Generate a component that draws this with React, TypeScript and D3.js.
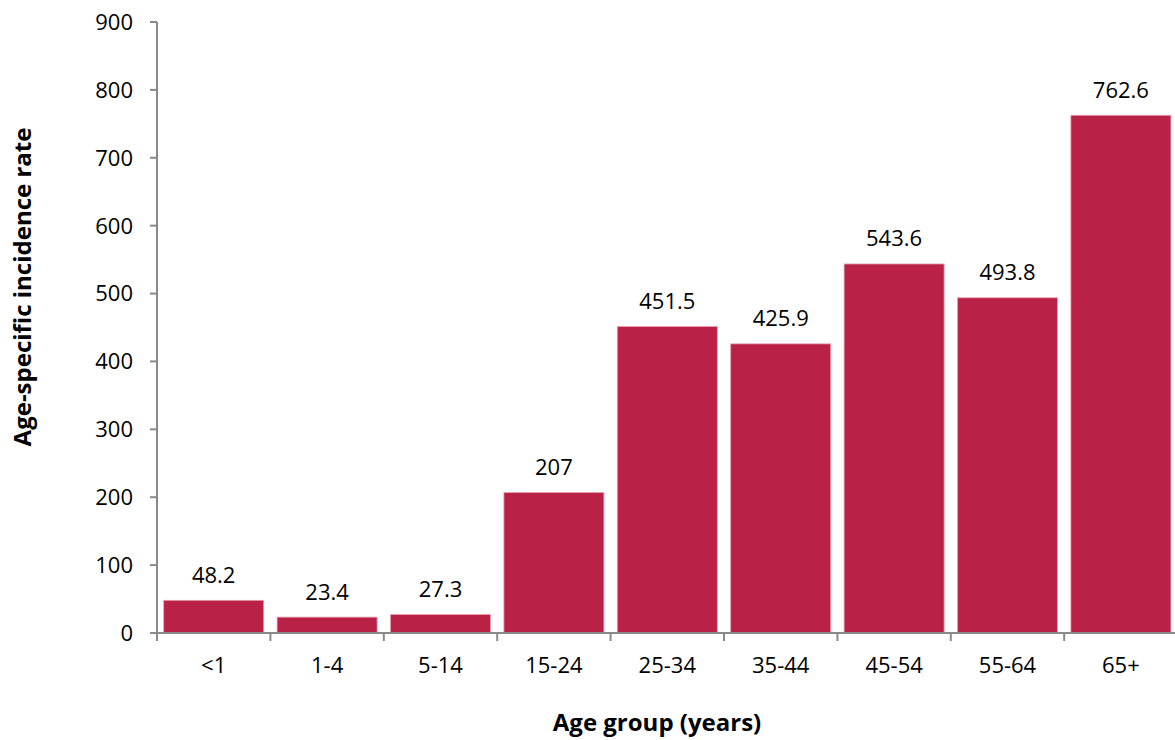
import React from "react";
import * as d3 from "d3";

const categories = ["<1", "1-4", "5-14", "15-24", "25-34", "35-44", "45-54", "55-64", "65+"];
const values = [48.2, 23.4, 27.3, 207, 451.5, 425.9, 543.6, 493.8, 762.6];
const valueLabels = ["48.2", "23.4", "27.3", "207", "451.5", "425.9", "543.6", "493.8", "762.6"];
const yTicks = [0, 100, 200, 300, 400, 500, 600, 700, 800, 900];

const W = 1175;
const H = 740;
const left = 157;
const right = 1177.6;
const top = 22;
const bottom = 633;
const font = "'Open Sans', 'Liberation Sans', sans-serif";

export default function App() {
  const x = d3.scaleBand<string>().domain(categories).range([left, right]).paddingInner(0.118).paddingOuter(0.059);
  const y = d3.scaleLinear().domain([0, 900]).range([bottom, top]);
  const boundaries = d3.range(categories.length + 1).map((i) => left + i * ((right - left) / categories.length));
  return (
    <svg width={W} height={H} style={{ position: "absolute", left: 0, top: 0, background: "#fff" }}>
      {categories.map((c, i) => (
        <rect key={c} x={x(c)} y={y(values[i])} width={x.bandwidth()} height={bottom - y(values[i])}
          fill="#BA2146" stroke="#e9a3b3" strokeWidth={0.8} />
      ))}
      <line x1={left} x2={left} y1={top} y2={bottom} stroke="#898989" strokeWidth={2} />
      {yTicks.map((t) => (
        <g key={t}>
          <line x1={left - 7} x2={left} y1={y(t)} y2={y(t)} stroke="#898989" strokeWidth={2} />
          <text x={left - 24} y={y(t)} dy="0.36em" textAnchor="end" fontFamily={font} fontSize={22} fill="#000">{t}</text>
        </g>
      ))}
      <line x1={left - 7} x2={right} y1={bottom} y2={bottom} stroke="#898989" strokeWidth={2} />
      {boundaries.map((b, i) => (
        <line key={i} x1={b} x2={b} y1={bottom} y2={bottom + 8} stroke="#898989" strokeWidth={2} />
      ))}
      {categories.map((c) => (
        <text key={c} x={(x(c) as number) + x.bandwidth() / 2} y={665} dy="0.36em" textAnchor="middle" fontFamily={font} fontSize={22} fill="#000">{c}</text>
      ))}
      {categories.map((c, i) => (
        <text key={c} x={(x(c) as number) + x.bandwidth() / 2} y={y(values[i]) - 17.5} textAnchor="middle" fontFamily={font} fontSize={22} fill="#000">{valueLabels[i]}</text>
      ))}
      <text x={657} y={722} dy="0.36em" textAnchor="middle" fontFamily={font} fontSize={24} fontWeight="bold" fill="#000">Age group (years)</text>
      <text transform={`translate(22,${287}) rotate(-90)`} dy="0.36em" textAnchor="middle" fontFamily={font} fontSize={24} fontWeight="bold" fill="#000">Age-specific incidence rate</text>
    </svg>
  );
}
